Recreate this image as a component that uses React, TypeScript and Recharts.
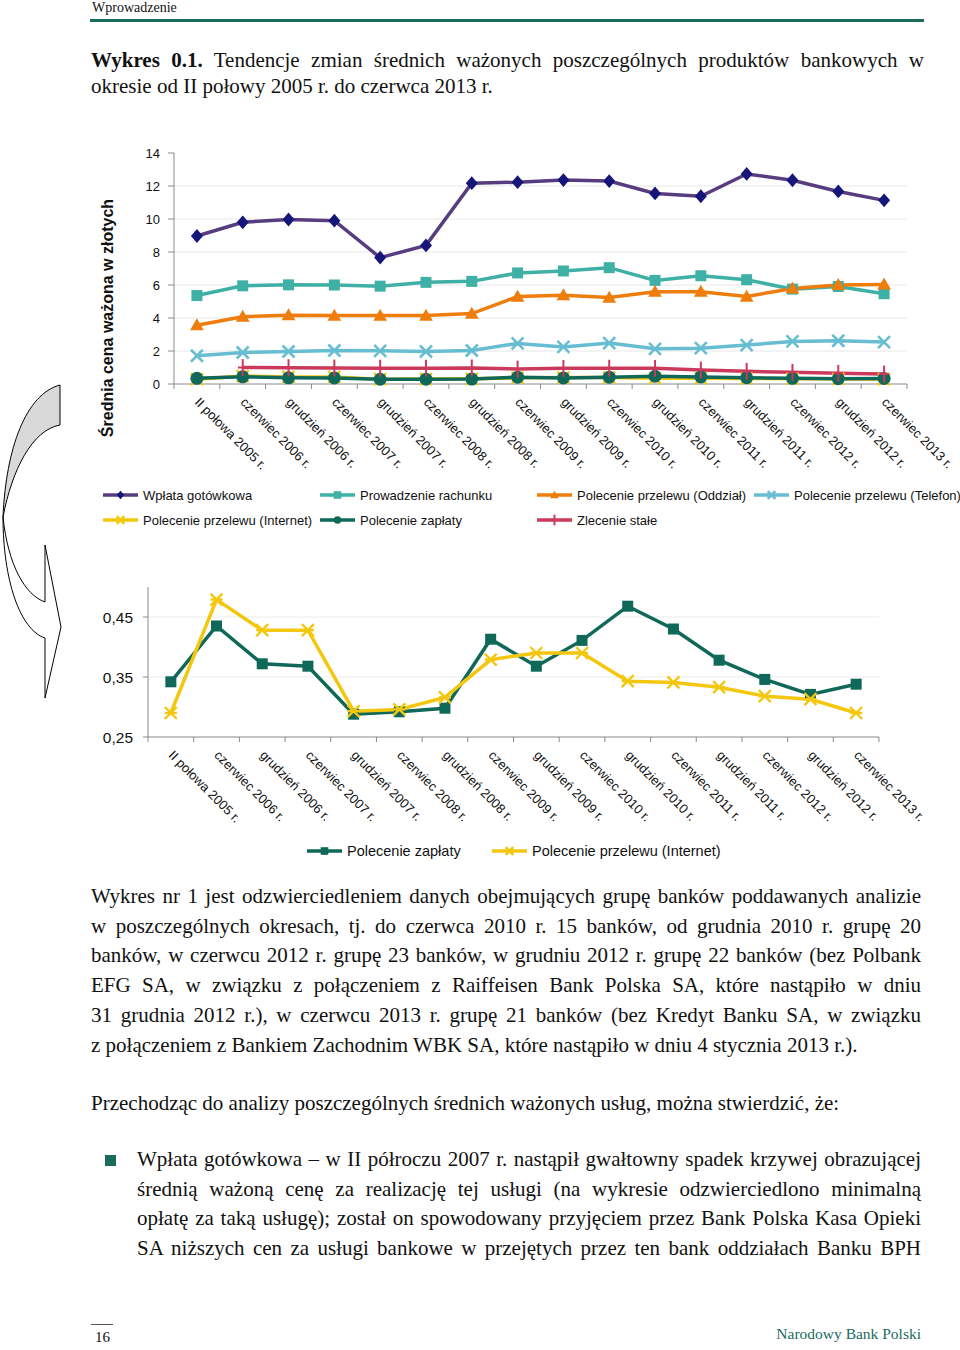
import React from "react";
import { LineChart, Line, XAxis, YAxis, CartesianGrid } from "recharts";

const SANS = "'Liberation Sans', Arial, sans-serif";
const SERIF = "'Liberation Serif', 'Times New Roman', serif";
const TEAL = "#1b6b5d";

const categories = [
  "II połowa 2005 r.",
  "czerwiec 2006 r.",
  "grudzień 2006 r.",
  "czerwiec 2007 r.",
  "grudzień 2007 r.",
  "czerwiec 2008 r.",
  "grudzień 2008 r.",
  "czerwiec 2009 r.",
  "grudzień 2009 r.",
  "czerwiec 2010 r.",
  "grudzień 2010 r.",
  "czerwiec 2011 r.",
  "grudzień 2011 r.",
  "czerwiec 2012 r.",
  "grudzień 2012 r.",
  "czerwiec 2013 r.",
];

const wplataGotowkowa = [8.97, 9.8, 9.97, 9.9, 7.66, 8.4, 12.17, 12.23, 12.36, 12.3, 11.55, 11.38, 12.73, 12.35, 11.67, 11.13];
const prowadzenieRachunku = [5.36, 5.95, 6.01, 6.0, 5.93, 6.16, 6.22, 6.73, 6.85, 7.05, 6.28, 6.56, 6.32, 5.75, 5.91, 5.47];
const przelewOddzial = [3.56, 4.08, 4.17, 4.15, 4.15, 4.15, 4.27, 5.3, 5.38, 5.24, 5.59, 5.59, 5.3, 5.79, 6.0, 6.03];
const przelewTelefon = [1.71, 1.91, 1.97, 2.03, 2.01, 1.97, 2.03, 2.46, 2.25, 2.48, 2.13, 2.17, 2.36, 2.58, 2.62, 2.54];
const przelewInternet = [0.29, 0.479, 0.428, 0.428, 0.293, 0.296, 0.316, 0.379, 0.39, 0.39, 0.343, 0.341, 0.333, 0.318, 0.313, 0.29];
const polecenieZaplaty = [0.342, 0.435, 0.372, 0.368, 0.288, 0.292, 0.298, 0.413, 0.368, 0.411, 0.468, 0.43, 0.378, 0.346, 0.321, 0.338];
const zlecenieStale = [null, 1.0, 0.99, 0.97, 0.96, 0.96, 0.97, 0.91, 0.95, 0.96, 0.95, 0.85, 0.77, 0.71, 0.65, 0.61];

const topTicks = [0, 2, 4, 6, 8, 10, 12, 14];
const bottomTicks = [0.25, 0.35, 0.45];

type Shape = "diamond" | "square" | "triangle" | "cross" | "star" | "circle" | "plus";

interface Series {
  key: string;
  name: string;
  color: string;
  markerColor: string;
  shape: Shape;
  values: (number | null)[];
}

const topSeries: Series[] = [
  { key: "wplata", name: "Wpłata gotówkowa", color: "#573d80", markerColor: "#16167a", shape: "diamond", values: wplataGotowkowa },
  { key: "rachunek", name: "Prowadzenie rachunku", color: "#3fb0a5", markerColor: "#3fb0a5", shape: "square", values: prowadzenieRachunku },
  { key: "oddzial", name: "Polecenie przelewu (Oddział)", color: "#ef7d0b", markerColor: "#ef7d0b", shape: "triangle", values: przelewOddzial },
  { key: "telefon", name: "Polecenie przelewu (Telefon)", color: "#67bdd2", markerColor: "#67bdd2", shape: "cross", values: przelewTelefon },
  { key: "internet", name: "Polecenie przelewu (Internet)", color: "#f4c70f", markerColor: "#f4c70f", shape: "star", values: przelewInternet },
  { key: "zaplaty", name: "Polecenie zapłaty", color: "#0f6858", markerColor: "#0f6858", shape: "circle", values: polecenieZaplaty },
  { key: "zlecenie", name: "Zlecenie stałe", color: "#cb3a5d", markerColor: "#cb3a5d", shape: "plus", values: zlecenieStale },
];

const bottomSeries: Series[] = [
  { key: "zaplaty", name: "Polecenie zapłaty", color: "#0f6858", markerColor: "#0f6858", shape: "square", values: polecenieZaplaty },
  { key: "internet", name: "Polecenie przelewu (Internet)", color: "#f4c70f", markerColor: "#f4c70f", shape: "star", values: przelewInternet },
];

const buildRows = (series: Series[]) =>
  categories.map((name, i) => {
    const row: Record<string, any> = { idx: i, name };
    series.forEach((s) => (row[s.key] = s.values[i]));
    return row;
  });

const topData = buildRows(topSeries);
const bottomData = buildRows(bottomSeries);

// category centres on integers, boundaries (where Excel puts tick marks) on halves
const xTicks = Array.from({ length: categories.length * 2 + 1 }, (_, i) => i / 2 - 0.5);

const Marker = ({ shape, cx, cy, color, s }: { shape: Shape; cx: number; cy: number; color: string; s: number }) => {
  switch (shape) {
    case "diamond":
      return <polygon points={`${cx},${cy - s * 1.15} ${cx + s},${cy} ${cx},${cy + s * 1.15} ${cx - s},${cy}`} fill={color} />;
    case "square":
      return <rect x={cx - s} y={cy - s} width={s * 2} height={s * 2} fill={color} />;
    case "triangle":
      return <polygon points={`${cx},${cy - s * 1.15} ${cx + s * 1.15},${cy + s * 0.85} ${cx - s * 1.15},${cy + s * 0.85}`} fill={color} />;
    case "circle":
      return <circle cx={cx} cy={cy} r={s} fill={color} />;
    case "cross":
      return (
        <g stroke={color} strokeWidth={2.6}>
          <line x1={cx - s} y1={cy - s} x2={cx + s} y2={cy + s} />
          <line x1={cx - s} y1={cy + s} x2={cx + s} y2={cy - s} />
        </g>
      );
    case "star":
      return (
        <g stroke={color} strokeWidth={2.4}>
          <line x1={cx - s} y1={cy - s} x2={cx + s} y2={cy + s} />
          <line x1={cx - s} y1={cy + s} x2={cx + s} y2={cy - s} />
          <line x1={cx - s} y1={cy} x2={cx + s} y2={cy} />
        </g>
      );
    case "plus":
      return (
        <g stroke={color} strokeWidth={2}>
          <line x1={cx} y1={cy - s * 1.4} x2={cx} y2={cy + s * 1.4} />
          <line x1={cx - s * 0.8} y1={cy} x2={cx + s * 0.8} y2={cy} />
        </g>
      );
  }
  return null;
};

const makeDot = (shape: Shape, color: string, s: number) => (p: any) => {
  const { cx, cy, index, value } = p;
  if (cx == null || cy == null || value == null) return <g key={`dot-${index}`} />;
  return (
    <g key={`dot-${index}`}>
      <Marker shape={shape} cx={cx} cy={cy} color={color} s={s} />
    </g>
  );
};

const XTick = (props: any) => {
  const { x, y, payload } = props;
  const v = payload.value;
  if (Number.isInteger(v)) {
    const tx = x - 3;
    const ty = y + 19;
    return (
      <text x={tx} y={ty} transform={`rotate(45 ${tx} ${ty})`} fontSize={13} fill="#111" textAnchor="start">
        {categories[v]}
      </text>
    );
  }
  return <line x1={x} y1={y} x2={x} y2={y + 5} stroke="#8a8a8a" />;
};

const LegendItem = ({ s, x, y, fontSize }: { s: Series; x: number; y: number; fontSize: number }) => (
  <div style={{ position: "absolute", left: x, top: y - 10, height: 20, display: "flex", alignItems: "center", whiteSpace: "nowrap" }}>
    <svg width={35} height={14} style={{ marginRight: 5 }}>
      <line x1={0} y1={7} x2={35} y2={7} stroke={s.color} strokeWidth={3.5} />
      <Marker shape={s.shape} cx={17.5} cy={7} color={s.markerColor} s={3.8} />
    </svg>
    <span style={{ fontSize, color: "#111" }}>{s.name}</span>
  </div>
);

const legendSlots = [
  [103, 495],
  [320, 495],
  [537, 495],
  [754, 495],
  [103, 520],
  [320, 520],
  [537, 520],
];

const Arrow = () => (
  <svg width={80} height={720} style={{ position: "absolute", left: 0, top: 0 }}>
    <path d="M60,385 C26,394 6,448 3,517 C12,470 32,430 60,425 Z" fill="#d9d9d9" stroke="#000" strokeWidth={1} />
    <path
      d="M3,517 C3,580 20,630 45,638 L45,698 L61,627 L45,545 L45,602 C25,595 8,565 3,517 Z"
      fill="#fff"
      stroke="#000"
      strokeWidth={1}
    />
  </svg>
);

const jl: React.CSSProperties = { textAlign: "justify", textAlignLast: "justify" };

export default function App() {
  return (
    <div style={{ position: "absolute", left: 0, top: 0, width: 960, height: 1350, background: "#fff", fontFamily: SANS, overflow: "hidden" }}>
      <div style={{ position: "absolute", left: 92, top: 0, fontFamily: SERIF, fontSize: 14, lineHeight: "16px", color: "#111" }}>Wprowadzenie</div>
      <div style={{ position: "absolute", left: 90, top: 19, width: 834, height: 3, background: TEAL }} />

      <div style={{ position: "absolute", left: 91, top: 47, width: 833, fontFamily: SERIF, fontSize: 21, lineHeight: "26px", color: "#111" }}>
        <div style={jl}>
          <b>Wykres 0.1.</b> Tendencje zmian średnich ważonych poszczególnych produktów bankowych w
        </div>
        <div>okresie od II połowy 2005 r. do czerwca 2013 r.</div>
      </div>

      <Arrow />

      <div
        style={{
          position: "absolute",
          left: 108 - 150,
          top: 318 - 10,
          width: 300,
          height: 20,
          lineHeight: "20px",
          textAlign: "center",
          transform: "rotate(-90deg)",
          fontWeight: "bold",
          fontSize: 16,
          color: "#111",
        }}
      >
        Średnia cena ważona w złotych
      </div>

      <div style={{ position: "absolute", left: 90, top: 140 }}>
        <LineChart width={870} height={340} data={topData} margin={{ top: 13, right: 53, bottom: 6, left: 0 }} style={{ fontFamily: SANS }}>
          <CartesianGrid vertical={false} stroke="#e8e8e8" horizontalValues={[2, 4, 6, 8, 10, 12]} />
          <XAxis
            dataKey="idx"
            type="number"
            domain={[-0.5, 15.5]}
            ticks={xTicks}
            interval={0}
            tick={(p: any) => <XTick {...p} />}
            tickLine={false}
            tickSize={0}
            tickMargin={0}
            height={90}
            axisLine={{ stroke: "#8a8a8a" }}
            allowDataOverflow
          />
          <YAxis
            width={84}
            domain={[0, 14]}
            ticks={topTicks}
            interval={0}
            tick={{ fontSize: 13, fill: "#111" }}
            tickSize={6}
            tickMargin={8}
            axisLine={{ stroke: "#8a8a8a" }}
            tickLine={{ stroke: "#8a8a8a" }}
          />
          {topSeries.map((s) => (
            <Line
              key={s.key}
              dataKey={s.key}
              name={s.name}
              stroke={s.color}
              strokeWidth={3.5}
              dot={makeDot(s.shape, s.markerColor, s.shape === "circle" ? 6.5 : s.shape === "square" ? 5.5 : 6)}
              activeDot={false}
              isAnimationActive={false}
            />
          ))}
        </LineChart>
      </div>

      {topSeries.map((s, i) => (
        <LegendItem key={s.key} s={s} x={legendSlots[i][0]} y={legendSlots[i][1]} fontSize={13} />
      ))}

      <div style={{ position: "absolute", left: 90, top: 575 }}>
        <LineChart width={870} height={257} data={bottomData} margin={{ top: 12, right: 81, bottom: 5, left: 0 }} style={{ fontFamily: SANS }}>
          <CartesianGrid vertical={false} stroke="#ececec" horizontalValues={[0.35, 0.45]} />
          <XAxis
            dataKey="idx"
            type="number"
            domain={[-0.5, 15.5]}
            ticks={xTicks}
            interval={0}
            tick={(p: any) => <XTick {...p} />}
            tickLine={false}
            tickSize={0}
            tickMargin={0}
            height={90}
            axisLine={{ stroke: "#8a8a8a" }}
            allowDataOverflow
          />
          <YAxis
            width={58}
            domain={[0.25, 0.5]}
            ticks={bottomTicks}
            interval={0}
            tick={{ fontSize: 15.5, fill: "#111" }}
            tickFormatter={(v: number) => v.toFixed(2).replace(".", ",")}
            tickSize={5}
            tickMargin={10}
            axisLine={{ stroke: "#8a8a8a" }}
            tickLine={{ stroke: "#8a8a8a" }}
            allowDataOverflow
          />
          {bottomSeries.map((s) => (
            <Line
              key={s.key}
              dataKey={s.key}
              name={s.name}
              stroke={s.color}
              strokeWidth={3.5}
              dot={makeDot(s.shape, s.markerColor, s.shape === "square" ? 5.5 : 6)}
              activeDot={false}
              isAnimationActive={false}
            />
          ))}
        </LineChart>
      </div>

      <LegendItem s={bottomSeries[0]} x={307} y={851} fontSize={14.5} />
      <LegendItem s={bottomSeries[1]} x={492} y={851} fontSize={14.5} />

      <div style={{ position: "absolute", left: 91, top: 882, width: 830, fontFamily: SERIF, fontSize: 21, lineHeight: "29.7px", color: "#111" }}>
        <div style={jl}>Wykres nr 1 jest odzwierciedleniem danych obejmujących grupę banków poddawanych analizie</div>
        <div style={jl}>w poszczególnych okresach, tj. do czerwca 2010 r. 15 banków, od grudnia 2010 r. grupę 20</div>
        <div style={jl}>banków, w czerwcu 2012 r. grupę 23 banków, w grudniu 2012 r. grupę 22 banków (bez Polbank</div>
        <div style={jl}>EFG SA, w związku z połączeniem z Raiffeisen Bank Polska SA, które nastąpiło w dniu</div>
        <div style={jl}>31 grudnia 2012 r.), w czerwcu 2013 r. grupę 21 banków (bez Kredyt Banku SA, w związku</div>
        <div>z połączeniem z Bankiem Zachodnim WBK SA, które nastąpiło w dniu 4 stycznia 2013 r.).</div>
      </div>

      <div style={{ position: "absolute", left: 91, top: 1088, width: 830, fontFamily: SERIF, fontSize: 21, lineHeight: "30px", color: "#111" }}>
        Przechodząc do analizy poszczególnych średnich ważonych usług, można stwierdzić, że:
      </div>

      <div style={{ position: "absolute", left: 105, top: 1155, width: 11, height: 11, background: TEAL }} />
      <div style={{ position: "absolute", left: 137, top: 1145, width: 784, fontFamily: SERIF, fontSize: 21, lineHeight: "29.6px", color: "#111" }}>
        <div style={jl}>Wpłata gotówkowa – w II półroczu 2007 r. nastąpił gwałtowny spadek krzywej obrazującej</div>
        <div style={jl}>średnią ważoną cenę za realizację tej usługi (na wykresie odzwierciedlono minimalną</div>
        <div style={jl}>opłatę za taką usługę); został on spowodowany przyjęciem przez Bank Polska Kasa Opieki</div>
        <div style={jl}>SA niższych cen za usługi bankowe w przejętych przez ten bank oddziałach Banku BPH</div>
      </div>

      <div style={{ position: "absolute", left: 91, top: 1324, width: 22, height: 1, background: "#555" }} />
      <div style={{ position: "absolute", left: 95, top: 1328, fontFamily: SERIF, fontSize: 15, lineHeight: "18px", color: "#111" }}>16</div>
      <div style={{ position: "absolute", right: 960 - 921, top: 1325, fontFamily: SERIF, fontSize: 15.5, lineHeight: "18px", color: TEAL }}>
        Narodowy Bank Polski
      </div>
    </div>
  );
}
